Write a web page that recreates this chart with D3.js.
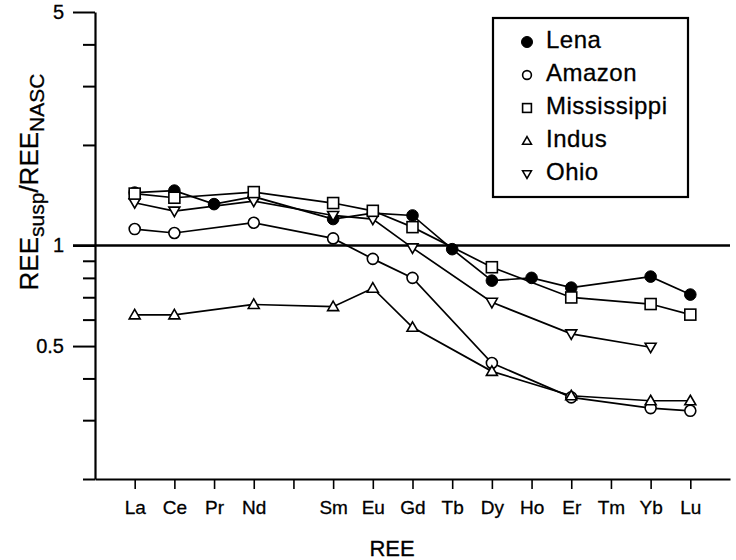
<!DOCTYPE html>
<html>
<head>
<meta charset="utf-8">
<script src="https://cdn.jsdelivr.net/npm/d3@7"></script>
<style>
  html, body { margin: 0; padding: 0; background: #fff; }
  svg { display: block; }
  text { font-family: "Liberation Sans", Arial, Helvetica, sans-serif; fill: #000; }
</style>
</head>
<body>
<svg id="chart" width="736" height="560"></svg>
<script>
// ---- data ----
const elements = ["La","Ce","Pr","Nd","Pm","Sm","Eu","Gd","Tb","Dy","Ho","Er","Tm","Yb","Lu"];
const tickLabels = ["La","Ce","Pr","Nd","","Sm","Eu","Gd","Tb","Dy","Ho","Er","Tm","Yb","Lu"];
const lena        = [1.44, 1.46, 1.33, 1.40, null, 1.20, 1.25, 1.23, 0.975, 0.785, 0.80, 0.748, null, 0.807, 0.713];
const amazon      = [1.12, 1.09, null, 1.17, null, 1.05, 0.912, 0.80, null, 0.445, null, 0.351, null, 0.326, 0.320];
const mississippi = [1.43, 1.39, null, 1.445, null, 1.34, 1.27, 1.135, null, 0.861, null, 0.699, null, 0.668, 0.621];
const indus       = [0.62, 0.62, null, 0.666, null, 0.656, 0.745, 0.569, null, 0.42, null, 0.355, null, 0.343, 0.343];
const ohio        = [1.343, 1.267, null, 1.358, null, 1.23, 1.20, 0.984, null, 0.676, null, 0.544, null, 0.496, null];
const seriesNames = ["Lena","Amazon","Mississippi","Indus","Ohio"];
const yMajorTicks = [5, 1, 0.5];
const yMinorTicks = [4, 3, 2, 0.9, 0.8, 0.7, 0.6, 0.4, 0.3, 0.2];

const seriesValues = { Lena: lena, Amazon: amazon, Mississippi: mississippi, Indus: indus, Ohio: ohio };
const markerOf = { Lena: "filledCircle", Amazon: "circle", Mississippi: "square", Indus: "triUp", Ohio: "triDown" };

// ---- scales ----
const svg = d3.select("#chart");
const x = d3.scaleLinear().domain([-1, 15]).range([95, 730]);
const y = d3.scaleLog().domain([0.2, 5]).range([479, 12]);

const font = "Liberation Sans, Arial, Helvetica, sans-serif";

// minor y ticks
svg.append("g").attr("transform", "translate(95,0)")
  .call(d3.axisLeft(y).tickValues(yMinorTicks).tickSize(12).tickSizeOuter(0).tickFormat(""))
  .call(g => g.select(".domain").remove())
  .call(g => g.selectAll("line").attr("stroke", "#000").attr("stroke-width", 2));

// major y ticks
svg.append("g").attr("transform", "translate(95,0)")
  .call(d3.axisLeft(y).tickValues(yMajorTicks).tickSize(22).tickSizeOuter(0).tickPadding(9)
        .tickFormat(d => d3.format("~g")(d)))
  .call(g => g.select(".domain").attr("stroke", "#000").attr("stroke-width", 2.2))
  .call(g => g.selectAll("line").attr("stroke", "#000").attr("stroke-width", 2))
  .call(g => g.selectAll("text").attr("font-family", font).attr("font-size", 20).attr("fill", "#000")
        .attr("stroke", "#000").attr("stroke-width", 0.3));

// x axis
svg.append("g").attr("transform", "translate(0," + y(0.2) + ")")
  .call(d3.axisBottom(x).tickValues(d3.range(elements.length)).tickSize(10).tickSizeOuter(0).tickPadding(12)
        .tickFormat(i => tickLabels[i]))
  .call(g => g.select(".domain").attr("stroke", "#000").attr("stroke-width", 2.2))
  .call(g => g.selectAll("line").attr("stroke", "#000").attr("stroke-width", 1.6))
  .call(g => g.selectAll("text").attr("font-family", font).attr("font-size", 19).attr("fill", "#000")
        .attr("stroke", "#000").attr("stroke-width", 0.3));

// reference line at 1
svg.append("line")
  .attr("x1", 73).attr("x2", 730)
  .attr("y1", y(1)).attr("y2", y(1))
  .attr("stroke", "#000").attr("stroke-width", 2.5);

// axis titles
svg.append("text")
  .attr("x", 392).attr("y", 556)
  .attr("text-anchor", "middle")
  .attr("font-size", 22)
  .attr("stroke", "#000").attr("stroke-width", 0.3)
  .text("REE");

const yt = svg.append("text")
  .attr("transform", "translate(38,182) rotate(-90)")
  .attr("text-anchor", "middle")
  .attr("font-size", 26)
  .attr("stroke", "#000").attr("stroke-width", 0.3);
yt.append("tspan").text("REE");
yt.append("tspan").attr("font-size", 21).attr("dy", 6).text("susp");
yt.append("tspan").attr("dy", -6).text("/REE");
yt.append("tspan").attr("font-size", 21).attr("dy", 6).text("NASC");

// ---- markers ----
function drawMarker(g, type, cx, cy, s) {
  const k = s || 1;
  if (type === "filledCircle") {
    g.append("circle").attr("cx", cx).attr("cy", cy).attr("r", 5.8 * k)
      .attr("fill", "#000").attr("stroke", "#000").attr("stroke-width", 1);
  } else if (type === "circle") {
    g.append("circle").attr("cx", cx).attr("cy", cy).attr("r", 5.5 * k)
      .attr("fill", "#fff").attr("stroke", "#000").attr("stroke-width", 1.6);
  } else if (type === "square") {
    const h = 5.5 * k;
    g.append("rect").attr("x", cx - h).attr("y", cy - h).attr("width", 2 * h).attr("height", 2 * h)
      .attr("fill", "#fff").attr("stroke", "#000").attr("stroke-width", 1.6);
  } else if (type === "triUp") {
    g.append("path")
      .attr("d", `M${cx},${cy - 5.5 * k} L${cx + 5.5 * k},${cy + 4 * k} L${cx - 5.5 * k},${cy + 4 * k} Z`)
      .attr("fill", "#fff").attr("stroke", "#000").attr("stroke-width", 1.6);
  } else if (type === "triDown") {
    g.append("path")
      .attr("d", `M${cx - 5.5 * k},${cy - 4 * k} L${cx + 5.5 * k},${cy - 4 * k} L${cx},${cy + 5.5 * k} Z`)
      .attr("fill", "#fff").attr("stroke", "#000").attr("stroke-width", 1.6);
  }
}

const line = d3.line().x(d => x(d.i)).y(d => y(d.v));
const pts = {};
seriesNames.forEach(name => {
  pts[name] = seriesValues[name].map((v, i) => ({ i, v })).filter(d => d.v !== null);
});

// lines
const gLines = svg.append("g");
seriesNames.forEach(name => {
  gLines.append("path").datum(pts[name])
    .attr("d", line).attr("fill", "none")
    .attr("stroke", "#000").attr("stroke-width", 1.7);
});

// markers (draw order so squares sit over dots)
const gMarks = svg.append("g");
["Lena", "Amazon", "Indus", "Ohio", "Mississippi"].forEach(name => {
  pts[name].forEach(d => drawMarker(gMarks, markerOf[name], x(d.i), y(d.v)));
});

// ---- legend ----
const lg = svg.append("g");
lg.append("rect").attr("x", 493).attr("y", 18).attr("width", 195).attr("height", 179)
  .attr("fill", "#fff").attr("stroke", "#000").attr("stroke-width", 2.2);
seriesNames.forEach((name, k) => {
  const cy = 40 + k * 33;
  drawMarker(lg, markerOf[name], 527, cy + 2, name === "Lena" ? 0.95 : 0.8);
  lg.append("text").attr("x", 546).attr("y", cy + 8)
    .attr("font-size", 24).attr("letter-spacing", 0.5)
    .attr("stroke", "#000").attr("stroke-width", 0.3)
    .text(name);
});
</script>
</body>
</html>
